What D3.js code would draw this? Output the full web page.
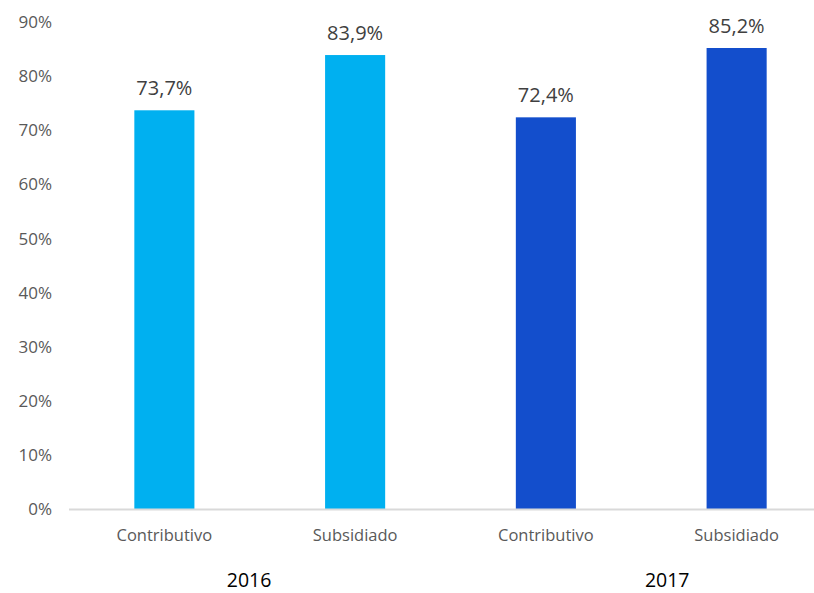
<!DOCTYPE html>
<html>
<head>
<meta charset="utf-8">
<script src="https://cdn.jsdelivr.net/npm/d3@7"></script>
<style>
  html, body { margin: 0; padding: 0; background: #fff; }
  svg { display: block; font-family: "Open Sans", "Noto Sans", sans-serif; }
</style>
</head>
<body>
<svg id="chart" width="814" height="593"></svg>
<script>
// Afiliación por régimen, 2016–2017
const years = ["2016", "2017"];
const regimes = ["Contributivo", "Subsidiado"];
const values2016 = [73.7, 83.9];
const values2017 = [72.4, 85.2];
const yTicks = [0, 10, 20, 30, 40, 50, 60, 70, 80, 90];
const yearColors = ["#00B0F0", "#134ECC"];
// where each year label sits across the plot width (0..1)
const yearLabelPos = [0.236, 0.784];

const rows = [];
[values2016, values2017].forEach((vals, yi) => {
  regimes.forEach((r, ri) => {
    rows.push({ key: years[yi] + "-" + r, year: years[yi], yi, regime: r, value: vals[ri] });
  });
});

const svg = d3.select("#chart");
const margin = { left: 69, right: 832, top: 22, bottom: 509.5 };

const x = d3.scaleBand()
  .domain(rows.map(d => d.key))
  .range([margin.left, margin.right])
  .paddingInner(0.685)
  .paddingOuter(0.3425);

const y = d3.scaleLinear()
  .domain([0, 90])
  .range([margin.bottom, margin.top]);

const fmt = v => d3.format(".1f")(v).replace(".", ",") + "%";

// y-axis tick labels
const yAxis = d3.axisLeft(y)
  .tickValues(yTicks)
  .tickFormat(d => d + "%")
  .tickSize(0)
  .tickPadding(0);
const gy = svg.append("g")
  .attr("transform", "translate(52,0)")
  .call(yAxis);
gy.select(".domain").remove();
gy.selectAll("text")
  .attr("font-family", "'Open Sans', sans-serif")
  .attr("font-size", 17)
  .attr("fill", "#595959");

// bars
svg.append("g").selectAll("rect")
  .data(rows)
  .join("rect")
  .attr("x", d => x(d.key))
  .attr("y", d => y(d.value))
  .attr("width", x.bandwidth())
  .attr("height", d => y(0) - y(d.value))
  .attr("fill", d => yearColors[d.yi]);

// value labels
svg.append("g").selectAll("text")
  .data(rows)
  .join("text")
  .attr("x", d => x(d.key) + x.bandwidth() / 2)
  .attr("y", d => y(d.value) - 15)
  .attr("text-anchor", "middle")
  .attr("font-size", 20)
  .attr("fill", "#404040")
  .text(d => fmt(d.value));

// baseline
svg.append("line")
  .attr("x1", margin.left)
  .attr("x2", margin.right)
  .attr("y1", y(0))
  .attr("y2", y(0))
  .attr("stroke", "#D9D9D9")
  .attr("stroke-width", 2);

// category labels
svg.append("g").selectAll("text")
  .data(rows)
  .join("text")
  .attr("x", d => x(d.key) + x.bandwidth() / 2)
  .attr("y", 541)
  .attr("text-anchor", "middle")
  .attr("font-size", 16.5)
  .attr("fill", "#595959")
  .text(d => d.regime);

// year labels
svg.append("g").selectAll("text")
  .data(years)
  .join("text")
  .attr("x", (d, i) => margin.left + yearLabelPos[i] * (margin.right - margin.left))
  .attr("y", 587)
  .attr("text-anchor", "middle")
  .attr("font-size", 19.5)
  .attr("fill", "#000")
  .text(d => d);
</script>
</body>
</html>
